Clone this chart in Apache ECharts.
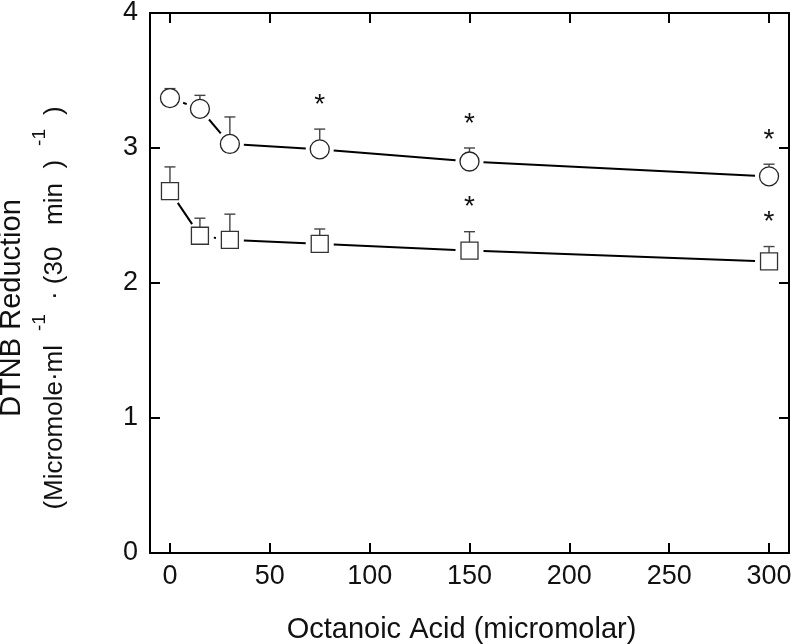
<!DOCTYPE html>
<html>
<head>
<meta charset="utf-8">
<script src="https://cdn.jsdelivr.net/npm/echarts@6/dist/echarts.min.js"></script>
<style>
  html, body { margin: 0; padding: 0; background: #fff; }
  #chart { width: 791px; height: 644px; }
</style>
</head>
<body>
<div id="chart"></div>
<script>
var concentration = [0, 15, 30, 75, 150, 300];          // octanoic acid, micromolar
var circleMean = [3.37, 3.29, 3.03, 2.99, 2.90, 2.79];
var circleErr  = [0.07, 0.10, 0.20, 0.15, 0.10, 0.09];
var circleStar = [0, 0, 0, 1, 1, 1];
var squareMean = [2.68, 2.35, 2.32, 2.29, 2.24, 2.16];
var squareErr  = [0.18, 0.13, 0.19, 0.11, 0.14, 0.11];
var squareStar = [0, 0, 0, 0, 1, 1];
var xTicks = [0, 50, 100, 150, 200, 250, 300];
var yTicks = [0, 1, 2, 3, 4];

var FONT = '"Liberation Sans", Arial, Helvetica, sans-serif';

function toPoints(mean) {
  return concentration.map(function (x, i) { return [x, mean[i]]; });
}

// connecting segments (cut short near the markers), upper error bars and asterisks
function makeRender(mean, err, star, half) {
  return function (params, api) {
    var i = params.dataIndex;
    var p = api.coord([concentration[i], mean[i]]);
    var top = api.coord([concentration[i], mean[i] + err[i]]);
    var children = [];
    if (i < concentration.length - 1) {
      var q = api.coord([concentration[i + 1], mean[i + 1]]);
      var dx = q[0] - p[0], dy = q[1] - p[1];
      var len = Math.sqrt(dx * dx + dy * dy);
      var cut = 14;
      if (len > 2 * cut) {
        children.push({
          type: 'line',
          shape: {
            x1: p[0] + dx / len * cut, y1: p[1] + dy / len * cut,
            x2: q[0] - dx / len * cut, y2: q[1] - dy / len * cut
          },
          style: { stroke: '#000', lineWidth: 2 }
        });
      }
    }
    if (top[1] < p[1] - half) {
      children.push({
        type: 'line',
        shape: { x1: p[0], y1: p[1] - half, x2: p[0], y2: top[1] },
        style: { stroke: '#444', lineWidth: 1.4 }
      });
    }
    children.push({
      type: 'line',
      shape: { x1: p[0] - 5.5, y1: top[1], x2: p[0] + 5.5, y2: top[1] },
      style: { stroke: '#444', lineWidth: 1.4 }
    });
    if (star[i]) {
      children.push({
        type: 'text',
        style: {
          x: p[0], y: top[1] - 24, text: '*',
          fill: '#111', font: '28px ' + FONT,
          align: 'center', verticalAlign: 'middle'
        }
      });
    }
    return { type: 'group', children: children };
  };
}

function frameAxis(pos, isX) {
  var a = {
    type: 'value',
    position: pos,
    axisLine: { show: true, onZero: false, lineStyle: { color: '#000', width: 2 } },
    axisTick: { show: true, inside: true, length: 10, lineStyle: { color: '#000', width: 2 } },
    axisLabel: { show: false },
    splitLine: { show: false }
  };
  if (isX) {
    a.min = -10; a.max = 310;
    a.axisTick.customValues = xTicks;
  } else {
    a.min = 0; a.max = 4; a.interval = 1;
  }
  return a;
}

var xBottom = frameAxis('bottom', true);
xBottom.axisLabel = { show: true, customValues: xTicks, fontSize: 27, color: '#111', fontFamily: FONT, margin: 10 };
xBottom.name = 'Octanoic Acid (micromolar)';
xBottom.nameLocation = 'middle';
xBottom.nameGap = 62;
xBottom.nameTextStyle = { fontSize: 29, color: '#111', fontFamily: FONT, padding: [0, 16, 0, 0] };
var xTop = frameAxis('top', true);

var yLeft = frameAxis('left', false);
yLeft.axisLabel = { show: true, fontSize: 27, color: '#111', fontFamily: FONT, margin: 12 };
yLeft.name = '{t|DTNB Reduction}\n{u|(Micromole·ml}{s|-1}{u|· (30   min  )}{s|-1}{u|)}';
yLeft.nameLocation = 'middle';
yLeft.nameRotate = 90;
yLeft.nameGap = 70;
yLeft.nameTextStyle = {
  color: '#111', fontFamily: FONT, padding: [0, 50, 0, 0],
  rich: {
    t: { fontSize: 29, lineHeight: 36, fontFamily: FONT, color: '#111' },
    u: { fontSize: 26, lineHeight: 50, fontFamily: FONT, color: '#111' },
    s: { fontSize: 19, lineHeight: 12, verticalAlign: 'top', padding: [0, 14, 0, 14], fontFamily: FONT, color: '#111' }
  }
};
var yRight = frameAxis('right', false);

var option = {
  animation: false,
  backgroundColor: '#fff',
  grid: { left: 150, right: 2, top: 13, bottom: 91, containLabel: false, outerBoundsMode: 'none' },
  xAxis: [xBottom, xTop],
  yAxis: [yLeft, yRight],
  series: [
    {
      type: 'custom', xAxisIndex: 0, yAxisIndex: 0, clip: false,
      data: toPoints(circleMean),
      renderItem: makeRender(circleMean, circleErr, circleStar, 9.5)
    },
    {
      type: 'custom', xAxisIndex: 0, yAxisIndex: 0, clip: false,
      data: toPoints(squareMean),
      renderItem: makeRender(squareMean, squareErr, squareStar, 8.5)
    },
    {
      type: 'scatter', symbol: 'circle', symbolSize: 19,
      data: toPoints(circleMean),
      itemStyle: { color: '#fff', borderColor: '#222', borderWidth: 1.3, opacity: 1 }
    },
    {
      type: 'scatter', symbol: 'rect', symbolSize: 17,
      data: toPoints(squareMean),
      itemStyle: { color: '#fff', borderColor: '#333', borderWidth: 1.3, opacity: 1 }
    }
  ]
};

var myChart = echarts.init(document.getElementById('chart'));
myChart.setOption(option);
</script>
</body>
</html>
